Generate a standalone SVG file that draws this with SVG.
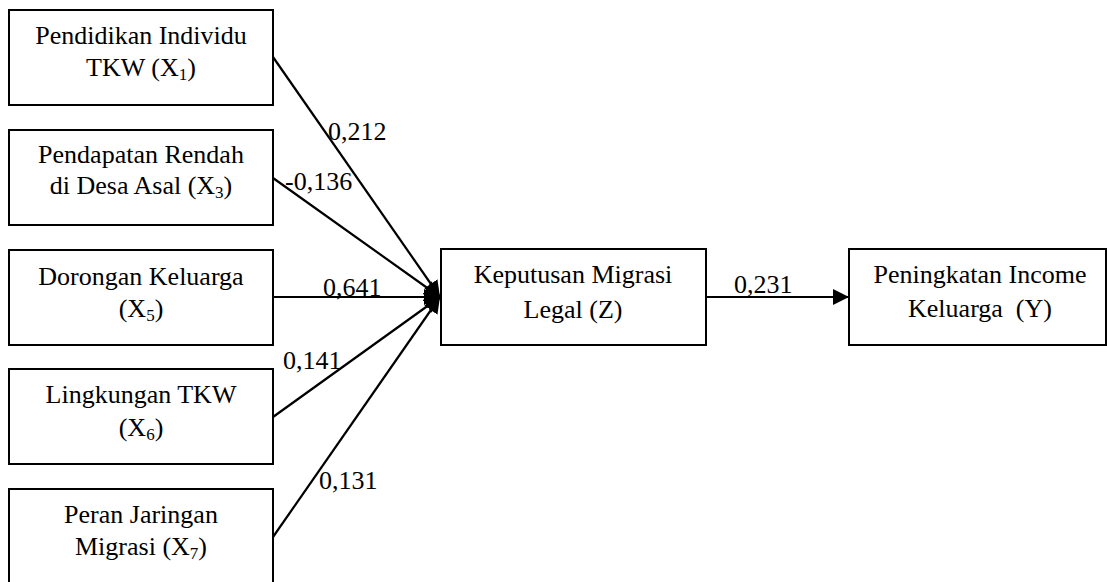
<svg xmlns="http://www.w3.org/2000/svg" width="1107" height="582" viewBox="0 0 1107 582">
  <style>
    .box { fill: #ffffff; stroke: #000000; stroke-width: 2; }
    .lbl { font-family: "Liberation Serif", "Times New Roman", serif; font-size: 26px; fill: #000000; text-anchor: middle; }
    .coef { font-family: "Liberation Serif", "Times New Roman", serif; font-size: 26px; fill: #000000; }
    .sub { font-size: 17px; }
    .edge { stroke: #000000; stroke-width: 2.2; fill: none; marker-end: url(#arrow); }
  </style>
  <defs>
    <marker id="arrow" markerUnits="userSpaceOnUse" markerWidth="17" markerHeight="16" refX="16" refY="8" orient="auto">
      <path d="M0,0 L16,8 L0,16 z" fill="#000000"/>
    </marker>
  </defs>
  <rect width="1107" height="582" fill="#ffffff"/>

  <!-- connectors -->
  <g id="connectors">
    <line class="edge" x1="273" y1="57" x2="440" y2="297"/>
    <line class="edge" x1="273" y1="178" x2="440" y2="297"/>
    <line class="edge" x1="273" y1="297" x2="440" y2="297"/>
    <line class="edge" x1="273" y1="417" x2="440" y2="297"/>
    <line class="edge" x1="273" y1="537" x2="440" y2="297"/>
    <line class="edge" x1="706" y1="297" x2="849" y2="297"/>
    <text class="coef" x="328" y="140">0,212</text>
    <text class="coef" x="285" y="190">-0,136</text>
    <text class="coef" x="323" y="296">0,641</text>
    <text class="coef" x="283" y="369">0,141</text>
    <text class="coef" x="319" y="489">0,131</text>
    <text class="coef" x="734" y="293">0,231</text>
  </g>

  <g id="x1">
    <rect class="box" x="9" y="10" width="264" height="95"/>
    <text class="lbl" x="141" y="44">Pendidikan Individu</text>
    <text class="lbl" x="141" y="76">TKW (X<tspan class="sub" dy="4">1</tspan><tspan dy="-4">)</tspan></text>
  </g>

  <g id="x3">
    <rect class="box" x="9" y="130" width="264" height="95"/>
    <text class="lbl" x="141" y="163">Pendapatan Rendah</text>
    <text class="lbl" x="141" y="194">di Desa Asal (X<tspan class="sub" dy="4">3</tspan><tspan dy="-4">)</tspan></text>
  </g>

  <g id="x5">
    <rect class="box" x="9" y="250" width="264" height="95"/>
    <text class="lbl" x="141" y="285">Dorongan Keluarga</text>
    <text class="lbl" x="141" y="317">(X<tspan class="sub" dy="4">5</tspan><tspan dy="-4">)</tspan></text>
  </g>

  <g id="x6">
    <rect class="box" x="9" y="369" width="264" height="95"/>
    <text class="lbl" x="141" y="403">Lingkungan TKW</text>
    <text class="lbl" x="141" y="436">(X<tspan class="sub" dy="4">6</tspan><tspan dy="-4">)</tspan></text>
  </g>

  <g id="x7">
    <rect class="box" x="9" y="489" width="264" height="96"/>
    <text class="lbl" x="141" y="523">Peran Jaringan</text>
    <text class="lbl" x="141" y="555">Migrasi (X<tspan class="sub" dy="4">7</tspan><tspan dy="-4">)</tspan></text>
  </g>

  <g id="z">
    <rect class="box" x="441" y="249" width="265" height="96"/>
    <text class="lbl" x="573" y="283">Keputusan Migrasi</text>
    <text class="lbl" x="573" y="318">Legal (Z)</text>
  </g>

  <g id="y">
    <rect class="box" x="849" y="249" width="257" height="96"/>
    <text class="lbl" x="980" y="283">Peningkatan Income</text>
    <text class="lbl" x="980" y="317">Keluarga&#160; (Y)</text>
  </g>
</svg>
